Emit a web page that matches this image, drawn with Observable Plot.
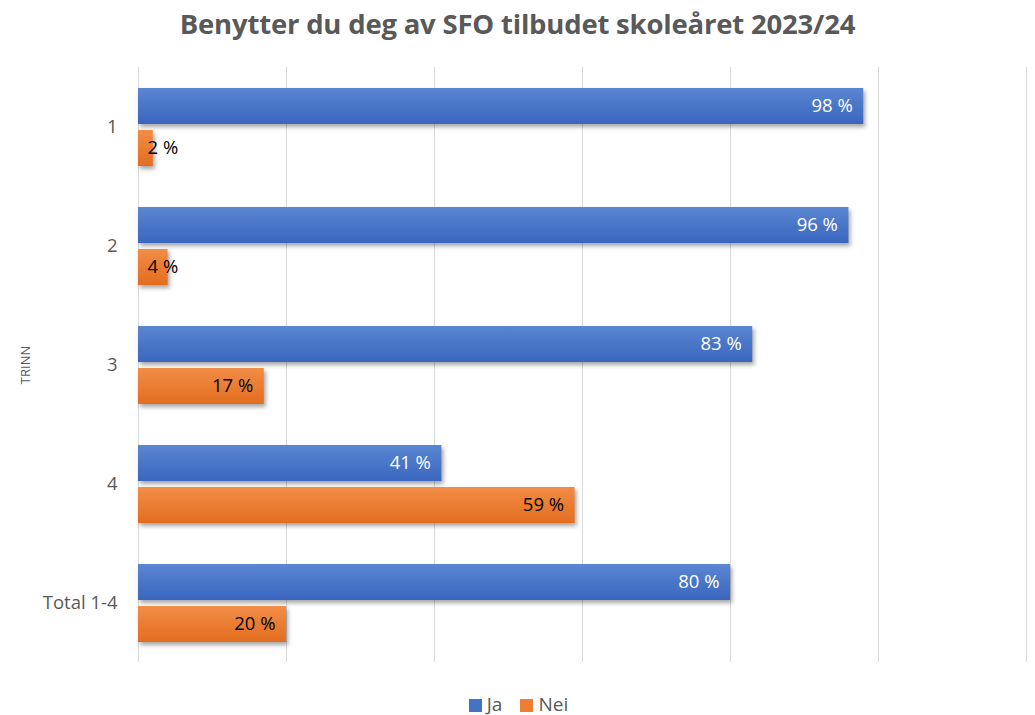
<!DOCTYPE html>
<html>
<head>
<meta charset="utf-8">
<script src="https://cdn.jsdelivr.net/npm/d3@7"></script>
<script src="https://cdn.jsdelivr.net/npm/@observablehq/plot@0.6"></script>
<style>
  body { margin: 0; background: #fff; font-family: "Open Sans", "Noto Sans", sans-serif; }
  #wrap { width: 1035px; position: relative; }
  #title { height: 50px; line-height: 48px; text-align: center; font-size: 27.5px; font-weight: 700; color: #595959; padding-left: 0px; letter-spacing: -0.2px; }
  #legend { text-align: center; font-size: 19px; color: #595959; margin-top: 11px; height: 30px; padding-left: 2px; }
  #legend span.sw { display: inline-block; width: 13px; height: 13px; margin-right: 5px; vertical-align: -1px; }
  #legend span.item { margin: 0 9px; }
  .bars rect { filter: drop-shadow(2px 3px 2px rgba(0,0,0,0.35)); }
</style>
</head>
<body>
<div id="wrap">
  <div id="title">Benytter du deg av SFO tilbudet skoleåret 2023/24</div>
  <div id="chart"></div>
  <div id="legend"></div>
</div>
<script>
const categories = ["1", "2", "3", "4", "Total 1-4"];
const series = ["Ja", "Nei"];
const ja = [98, 96, 83, 41, 80];
const nei = [2, 4, 17, 59, 20];
const colors = ["#4472C4", "#ED7D31"];
const xTicks = [0, 20, 40, 60, 80, 100, 120];

const data = [];
categories.forEach((c, i) => {
  data.push({cat: c, s: "Ja", v: ja[i]});
  data.push({cat: c, s: "Nei", v: nei[i]});
});

const inside = d => d.s === "Ja" || d.v >= 10;

const chart = Plot.plot({
  width: 1035,
  height: 630,
  marginLeft: 138,
  marginRight: 9,
  marginTop: 17,
  marginBottom: 18,
  style: {fontFamily: "'Open Sans', 'Noto Sans', sans-serif", fontSize: "18.5px", color: "#595959"},
  x: {domain: [0, 120], axis: null},
  y: {domain: series, axis: null, paddingInner: 0.143, paddingOuter: 0.488},
  fy: {domain: categories, padding: 0, label: "TRINN", tickSize: 0, tickPadding: 21, labelAnchor: "center", labelOffset: 118},
  facet: {data: data, y: "cat"},
  marks: [
    Plot.ruleX(xTicks, {stroke: "#d9d9d9", strokeWidth: 1}),
    Plot.barX(data, {y: "s", x: "v", fill: d => d.s === "Ja" ? "url(#gJa)" : "url(#gNei)", className: "bars"}),
    Plot.text(data, {
      y: "s", x: "v", text: d => inside(d) ? d.v + " %" : "", textAnchor: "end", dx: -11,
      fill: d => d.s === "Ja" ? "white" : "black", fontSize: 18.5
    }),
    Plot.text(data, {
      y: "s", x: 0, text: d => inside(d) ? "" : d.v + " %", textAnchor: "start", dx: 9,
      fill: "black", fontSize: 18.5
    })
  ]
});

// gradients for the bars
const svg = d3.select(chart);
const defs = svg.insert("defs", ":first-child");
const grads = [["gJa", "#5A86D2", "#3A66BF"], ["gNei", "#F28D47", "#E36D1F"]];
grads.forEach(([id, top, bot]) => {
  const g = defs.append("linearGradient").attr("id", id).attr("x1", 0).attr("y1", 0).attr("x2", 0).attr("y2", 1);
  g.append("stop").attr("offset", "0%").attr("stop-color", top);
  g.append("stop").attr("offset", "100%").attr("stop-color", bot);
});
svg.selectAll("text").filter(function() { return this.textContent === "TRINN"; }).style("font-size", "13px");

document.getElementById("chart").appendChild(chart);

const legend = document.getElementById("legend");
series.forEach((s, i) => {
  const item = document.createElement("span");
  item.className = "item";
  item.innerHTML = `<span class="sw" style="background:${colors[i]}"></span>${s}`;
  legend.appendChild(item);
});
</script>
</body>
</html>
